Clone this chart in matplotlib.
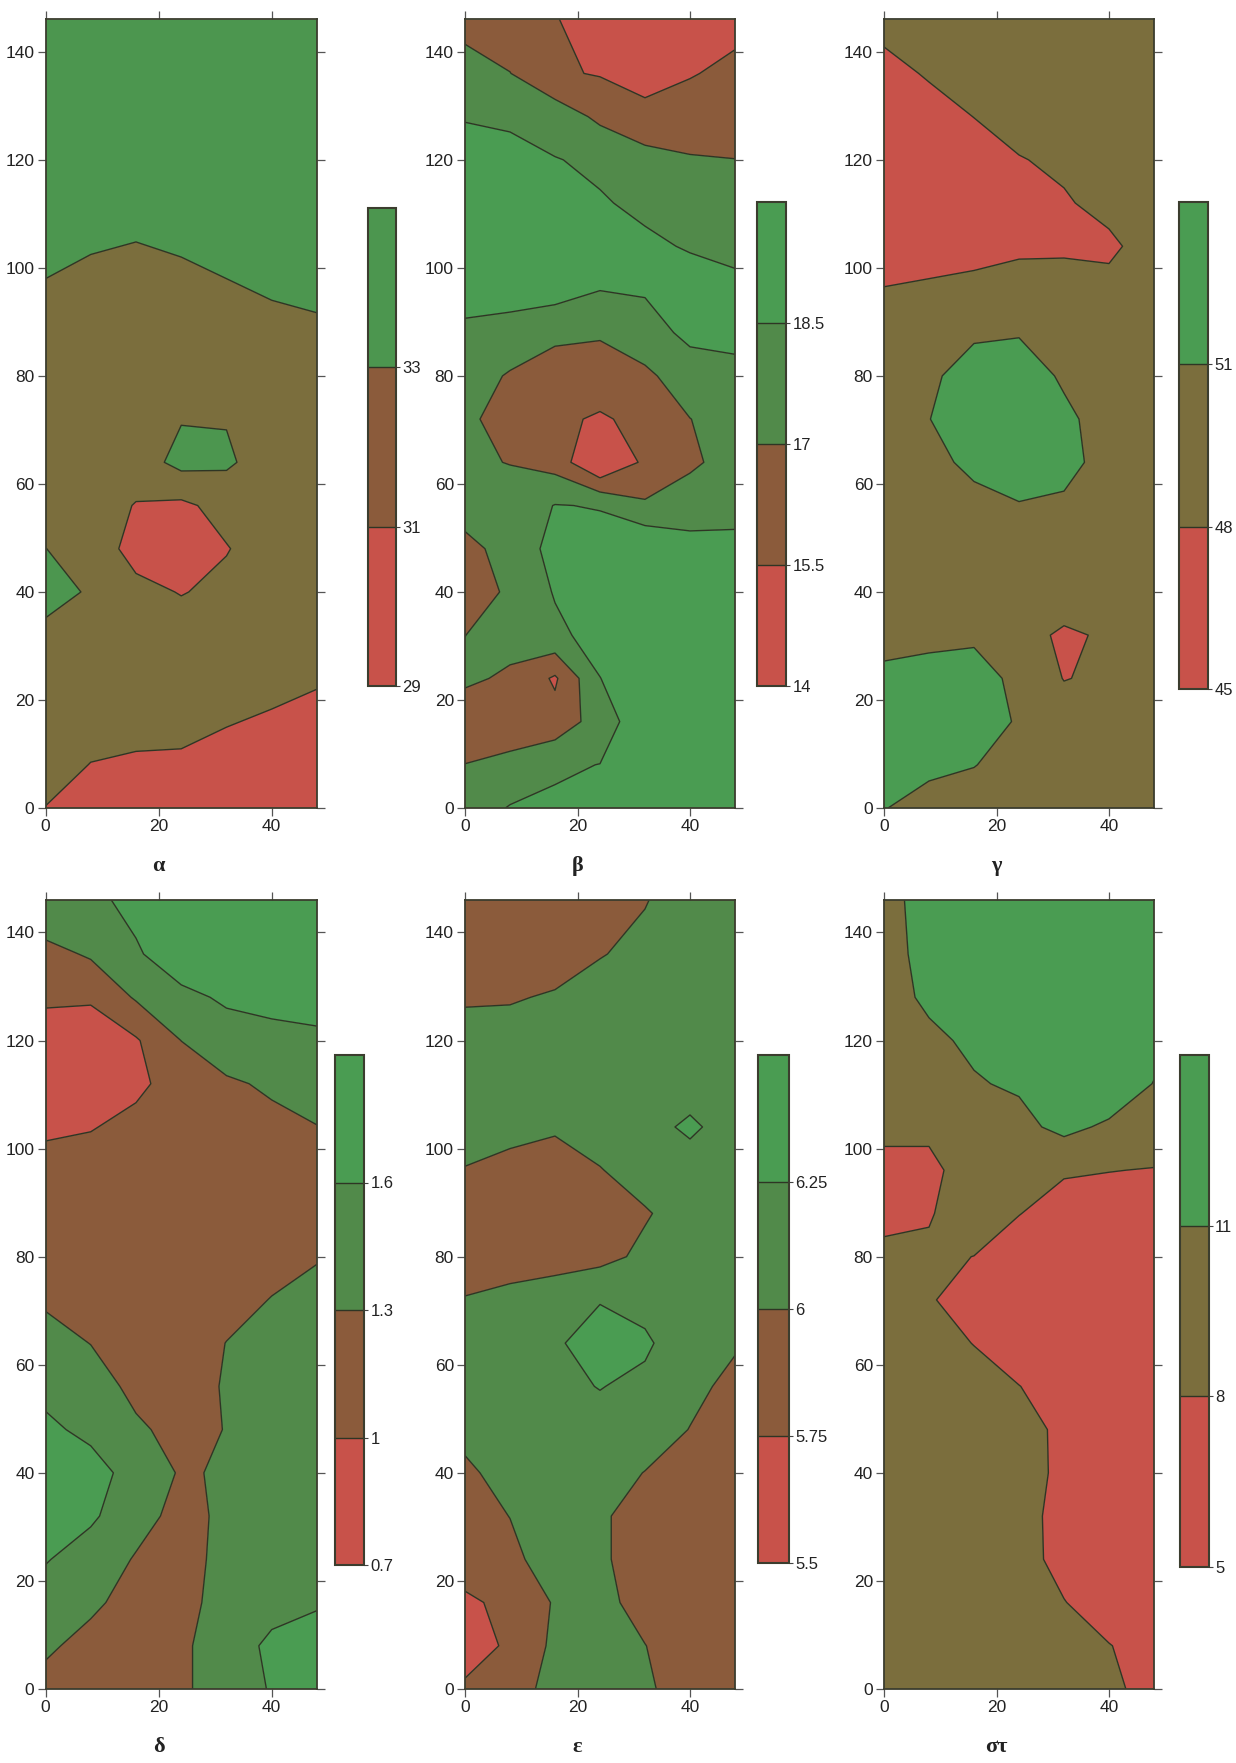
import matplotlib
matplotlib.use("Agg")
import matplotlib.pyplot as plt
import matplotlib.colorbar as mcolorbar
from matplotlib.colors import ListedColormap, BoundaryNorm
import numpy as np

# grid coordinates (data units)
x_grid = [0, 8, 16, 24, 32, 40, 48]
y_grid = [0, 8, 16, 24, 32, 40, 48, 56, 64, 72, 80, 88, 96, 104, 112, 120, 128, 136, 146]

# estimated field values, rows = y_grid (bottom to top), cols = x_grid
alpha_z = [
    [30.95, 30, 30, 30, 30, 30, 30],
    [32, 30.94, 30.69, 30.63, 30.13, 30, 30],
    [32, 31.94, 31.69, 31.63, 31.13, 30.71, 30.25],
    [32, 32, 32, 32, 32, 31.71, 31.25],
    [31.8, 32, 32, 32, 32, 32, 32],
    [34.8, 32.5, 31.6, 30.9, 31.5, 32, 32],
    [33.02, 32.3, 30.2, 29.8, 30.9, 32, 32],
    [32, 32, 30.9, 30.6, 31.7, 32, 32],
    [32, 32, 32, 33.6, 33.3, 32, 32],
    [32, 32, 32, 32.9, 32.9, 32, 32],
    [32, 32, 32, 32, 32, 32, 32],
    [32, 32, 32, 32, 32, 32.25, 32.54],
    [32.75, 32.19, 32, 32.25, 32.75, 33.25, 33.54],
    [33.75, 33.19, 32.9, 33.25, 33.75, 34, 34.5],
    [35, 35, 33.9, 35, 35, 35, 35],
    [35, 35, 35, 35, 35, 35, 35],
    [35, 35, 35, 35, 35, 35, 35],
    [35, 35, 35, 35, 35, 35, 35],
    [35, 35, 35, 35, 35, 35, 35],
]

beta_z = [
    [17.6, 18.6, 18.7, 18.8, 19.3, 19.4, 19.5],
    [17.02, 17.3, 18.33, 18.52, 19.5, 19.6, 19.7],
    [16.2, 16.34, 16.02, 17.72, 19.5, 19.7, 19.8],
    [17.23, 16.8, 15.3, 18.48, 19.4, 19.6, 19.7],
    [16.99, 17.44, 18.2, 19.0, 19.3, 19.4, 19.5],
    [16.0, 17.3, 18.6, 19.3, 19.2, 19.2, 19.2],
    [16.6, 17.5, 19.0, 19.0, 20.0, 18.9, 18.8],
    [17.6, 17.6, 18.55, 18.43, 17.2, 17.93, 18.13],
    [17.2, 16.96, 16.4, 13.85, 15.8, 16.69, 17.7],
    [17.2, 16.6, 16.0, 15.2, 16.2, 16.98, 17.6],
    [17.5, 16.9, 16.3, 16.91, 16.7, 17.8, 18.0],
    [18.3, 17.7, 17.32, 17.02, 17.9, 18.84, 19.0],
    [18.9, 19.38, 19.14, 18.54, 18.64, 19.0, 18.7],
    [19.2, 19.3, 19.4, 19.2, 18.7, 18.41, 18.29],
    [19.2, 19.2, 19.2, 18.6, 18.27, 17.9, 17.8],
    [18.9, 18.9, 18.55, 18.28, 17.5, 17.1, 17.02],
    [18.44, 18.28, 17.88, 16.68, 16.02, 16.3, 16.22],
    [17.6, 17.03, 15.68, 15.4, 14.83, 15.39, 15.9],
    [16.49, 16.03, 15.6, 14.6, 14.5, 14.8, 14.99],
]

gamma_z = [
    [51.1, 50.0, 49.5, 49.5, 49.5, 49.5, 49.5],
    [52.0, 51.6, 51.1, 49.8, 49.5, 49.5, 49.5],
    [52.5, 52.5, 52.0, 50.8, 49.5, 49.5, 49.5],
    [51.8, 52.0, 52.0, 50.4, 47.9, 48.5, 49.5],
    [49.8, 50.3, 50.6, 49.6, 47.3, 48.6, 49.5],
    [49.5, 49.5, 49.5, 49.5, 50.5, 49.5, 49.5],
    [49.5, 49.5, 49.5, 49.5, 49.5, 49.5, 49.5],
    [49.5, 49.5, 50.0, 50.85, 50.5, 49.5, 49.5],
    [49.5, 50.0, 51.8, 52.5, 52.0, 49.8, 49.5],
    [49.5, 50.95, 52.5, 53.0, 51.6, 49.8, 49.5],
    [49.5, 50.5, 52.2, 52.5, 50.6, 49.5, 49.5],
    [49.5, 49.5, 50.6, 50.8, 49.8, 49.5, 49.5],
    [48.05, 48.2, 48.4, 48.8, 48.8, 48.6, 49.5],
    [47.25, 47.4, 47.49, 47.66, 47.7, 47.6, 48.93],
    [46.5, 46.8, 47.0, 47.3, 47.8, 48.6, 49.5],
    [46.5, 46.9, 47.3, 47.9, 48.37, 49.3, 49.5],
    [46.8, 47.4, 48.02, 48.79, 49.3, 49.5, 49.5],
    [47.5, 48.15, 49.0, 49.5, 49.5, 49.5, 49.5],
    [48.52, 49.2, 49.5, 49.5, 49.5, 49.5, 49.5],
]

delta_z = [
    [1.2, 1.15, 1.12, 1.25, 1.45, 1.62, 1.72],
    [1.351, 1.2, 1.12, 1.25, 1.45, 1.66, 1.7],
    [1.45, 1.36, 1.18, 1.2, 1.42, 1.5, 1.577],
    [1.621, 1.45, 1.28, 1.2, 1.38, 1.45, 1.5],
    [1.75, 1.65, 1.394, 1.22, 1.35, 1.45, 1.48],
    [1.85, 1.7, 1.5, 1.27, 1.33, 1.45, 1.45],
    [1.65, 1.54, 1.35, 1.2, 1.31, 1.45, 1.45],
    [1.532, 1.45, 1.217, 1.15, 1.33, 1.42, 1.42],
    [1.42, 1.294, 1.15, 1.15, 1.305, 1.38, 1.4],
    [1.257, 1.2, 1.15, 1.15, 1.2, 1.31, 1.38],
    [1.15, 1.15, 1.15, 1.15, 1.15, 1.2, 1.283],
    [1.12, 1.12, 1.12, 1.12, 1.15, 1.15, 1.2],
    [1.05, 1.08, 1.1, 1.12, 1.15, 1.2, 1.25],
    [0.976, 0.99, 1.05, 1.15, 1.18, 1.25, 1.295],
    [0.85, 0.8, 0.961, 1.08, 1.27, 1.33, 1.4],
    [0.88, 0.82, 0.97, 1.303, 1.43, 1.5, 1.58],
    [1.04, 1.04, 1.332, 1.5, 1.657, 1.7, 1.64],
    [1.2, 1.337, 1.55, 1.848, 1.8, 1.8, 1.8],
    [1.58, 1.5, 1.72, 1.85, 1.85, 1.85, 1.85],
]

epsilon_z = [
    [5.8, 5.87, 6.1, 6.1, 6.05, 5.85, 5.85],
    [5.6, 5.8, 6.05, 6.1, 6.005, 5.85, 5.83],
    [5.7, 5.82, 6.02, 6.08, 5.9, 5.83, 5.82],
    [5.89, 5.95, 6.1, 6.05, 5.85, 5.85, 5.83],
    [5.92, 6.003, 6.12, 6.04, 5.88, 5.88, 5.85],
    [5.95, 6.1, 6.13, 6.08, 5.995, 5.92, 5.88],
    [6.075, 6.15, 6.14, 6.15, 6.1, 5.995, 5.92],
    [6.12, 6.15, 6.18, 6.26, 6.18, 6.05, 5.95],
    [6.1, 6.1, 6.2, 6.42, 6.3, 6.05, 6.02],
    [6.01, 6.05, 6.12, 6.23, 6.15, 6.1, 6.1],
    [5.9, 5.917, 5.907, 5.928, 6.05, 6.12, 6.12],
    [5.88, 5.85, 5.85, 5.82, 5.98, 6.1, 6.1],
    [5.99, 5.92, 5.88, 5.99, 6.1, 6.12, 6.1],
    [6.1, 6.08, 6.032, 6.1, 6.15, 6.3, 6.12],
    [6.12, 6.13, 6.12, 6.12, 6.15, 6.12, 6.12],
    [6.05, 6.08, 6.12, 6.12, 6.12, 6.12, 6.12],
    [5.985, 5.983, 6.02, 6.08, 6.1, 6.12, 6.12],
    [5.9, 5.9, 5.906, 5.99, 6.05, 6.12, 6.12],
    [5.85, 5.85, 5.85, 5.85, 5.99, 6.1, 6.1],
]

sigmatau_z = [
    [9.5, 9.5, 9.5, 9.5, 9.5, 8.6, 7.0],
    [9.5, 9.5, 9.5, 9.5, 9.2, 8.1, 6.8],
    [9.5, 9.5, 9.5, 9.5, 8.1, 6.5, 6.0],
    [9.5, 9.5, 9.5, 9.2, 7.0, 6.0, 5.7],
    [9.5, 9.5, 9.5, 9.3, 6.8, 5.8, 5.6],
    [9.5, 9.5, 9.5, 9.5, 7.2, 5.7, 5.6],
    [9.5, 9.5, 9.5, 9.2, 7.3, 5.8, 5.7],
    [9.5, 9.5, 9.5, 8.05, 6.8, 5.9, 5.8],
    [9.5, 9.5, 7.9, 6.5, 6.2, 6.0, 6.0],
    [9.5, 8.3, 6.5, 6.0, 5.8, 6.1, 6.1],
    [8.6, 8.3, 7.98, 6.5, 6.0, 6.3, 6.3],
    [7.3, 7.86, 9.0, 8.08, 6.8, 6.8, 6.8],
    [7.5, 7.5, 9.0, 9.3, 8.3, 8.06, 7.9],
    [8.41, 8.41, 10.2, 10.2, 11.78, 10.5, 9.5],
    [9.5, 9.6, 10.8, 11.34, 12.5, 13.17, 10.9],
    [10.0, 10.5, 11.44, 12.5, 13.0, 13.3, 12.0],
    [10.0, 11.45, 12.5, 13.0, 13.2, 13.3, 12.5],
    [9.5, 12.3, 13.0, 13.2, 13.3, 13.3, 12.8],
    [9.5, 12.8, 13.2, 13.3, 13.3, 13.3, 13.0],
]

titles = ["α", "β", "γ", "δ", "ε", "στ"]
levels_list = [
    [29, 31, 33, 35],
    [14, 15.5, 17, 18.5, 20],
    [45, 48, 51, 54],
    [0.7, 1.0, 1.3, 1.6, 1.9],
    [5.5, 5.75, 6.0, 6.25, 6.5],
    [5, 8, 11, 14],
]
fields = [alpha_z, beta_z, gamma_z, delta_z, epsilon_z, sigmatau_z]

RED = "#c8524a"
BROWN = "#8b5b3b"
OLIVE = "#7b6e3d"
GREEN = "#4a9c52"
GREEN_D = "#518a4a"
GREEN_A = "#4c964f"

map_colors = [
    [RED, OLIVE, GREEN_A],
    [RED, BROWN, GREEN_D, GREEN],
    [RED, OLIVE, GREEN],
    [RED, BROWN, GREEN_D, GREEN],
    [RED, BROWN, GREEN_D, GREEN],
    [RED, OLIVE, GREEN],
]
cbar_colors = [
    [RED, BROWN, GREEN_A],
    [RED, BROWN, GREEN_D, GREEN],
    [RED, OLIVE, GREEN],
    [RED, BROWN, GREEN_D, GREEN],
    [RED, BROWN, GREEN_D, GREEN],
    [RED, OLIVE, GREEN],
]

W, H = 1236, 1763
fig = plt.figure(figsize=(W / 100, H / 100), dpi=100)
fig.patch.set_facecolor("white")


def rect(x0, x1, ytop, ybot):
    return [x0 / W, 1 - ybot / H, (x1 - x0) / W, (ybot - ytop) / H]


axes_px = [
    (45.5, 317, 19.4, 808),
    (465, 735, 19.4, 808),
    (884, 1154, 19.4, 808),
    (45.5, 317, 900, 1689),
    (465, 735, 900, 1689),
    (884, 1154, 900, 1689),
]
cbar_px = [
    (368, 396, 208, 686),
    (757, 786, 202, 686),
    (1179, 1208, 202, 689),
    (335, 364, 1055, 1565),
    (758, 789, 1055, 1563),
    (1180, 1209, 1055, 1567),
]
title_y = [866, 866, 866, 1747, 1747, 1747]

LINE = "#2e3524"
TXT = "#222222"
X, Y = np.meshgrid(x_grid, y_grid)

for i in range(6):
    Z = np.array(fields[i], dtype=float)
    lv = levels_list[i]
    inner = lv[1:-1]
    ax = fig.add_axes(rect(*axes_px[i]))
    ax.contourf(X, Y, Z, levels=[-1e6] + inner + [1e6], colors=map_colors[i],
                antialiased=True)
    ax.contour(X, Y, Z, levels=inner, colors=LINE, linewidths=1.0)
    ax.set_xlim(0, 48)
    ax.set_ylim(0, 146)
    ax.set_xticks([0, 20, 40])
    ax.set_yticks(list(range(0, 141, 20)))
    ax.tick_params(direction="out", top=True, right=True, length=6, width=0.9,
                   color="#555555", labelsize=12.5, labelcolor=TXT, pad=2)
    for lab in ax.get_xticklabels() + ax.get_yticklabels():
        lab.set_fontfamily("Liberation Sans")
    for sp in ax.spines.values():
        sp.set_color("#3b3d2e")
        sp.set_linewidth(1.3)

    # title below the panel
    x_pix = axes_px[i][0] + 20 * (axes_px[i][1] - axes_px[i][0]) / 48
    fig.text(x_pix / W, 1 - title_y[i] / H, titles[i], ha="center", va="center",
             fontsize=16, fontweight="bold", family="Liberation Serif", color=TXT)

    # colorbar
    cax = fig.add_axes(rect(*cbar_px[i]))
    cmap = ListedColormap(cbar_colors[i])
    norm = BoundaryNorm(lv, cmap.N)
    cb = mcolorbar.ColorbarBase(cax, cmap=cmap, norm=norm, ticks=lv[:-1],
                                orientation="vertical")
    cb.set_ticklabels(["{:g}".format(v) for v in lv[:-1]])
    cax.minorticks_off()
    cb.outline.set_edgecolor("#3b3d2e")
    cb.outline.set_linewidth(1.5)
    cax.tick_params(length=3, width=0.8, color="#444444", labelsize=12,
                    labelcolor=TXT, pad=1.5)
    for lab in cax.get_yticklabels():
        lab.set_fontfamily("Liberation Sans")
    for v in inner:
        cax.axhline(v, color=LINE, lw=1.0)

fig.savefig("out.png", dpi=100, facecolor="white")
